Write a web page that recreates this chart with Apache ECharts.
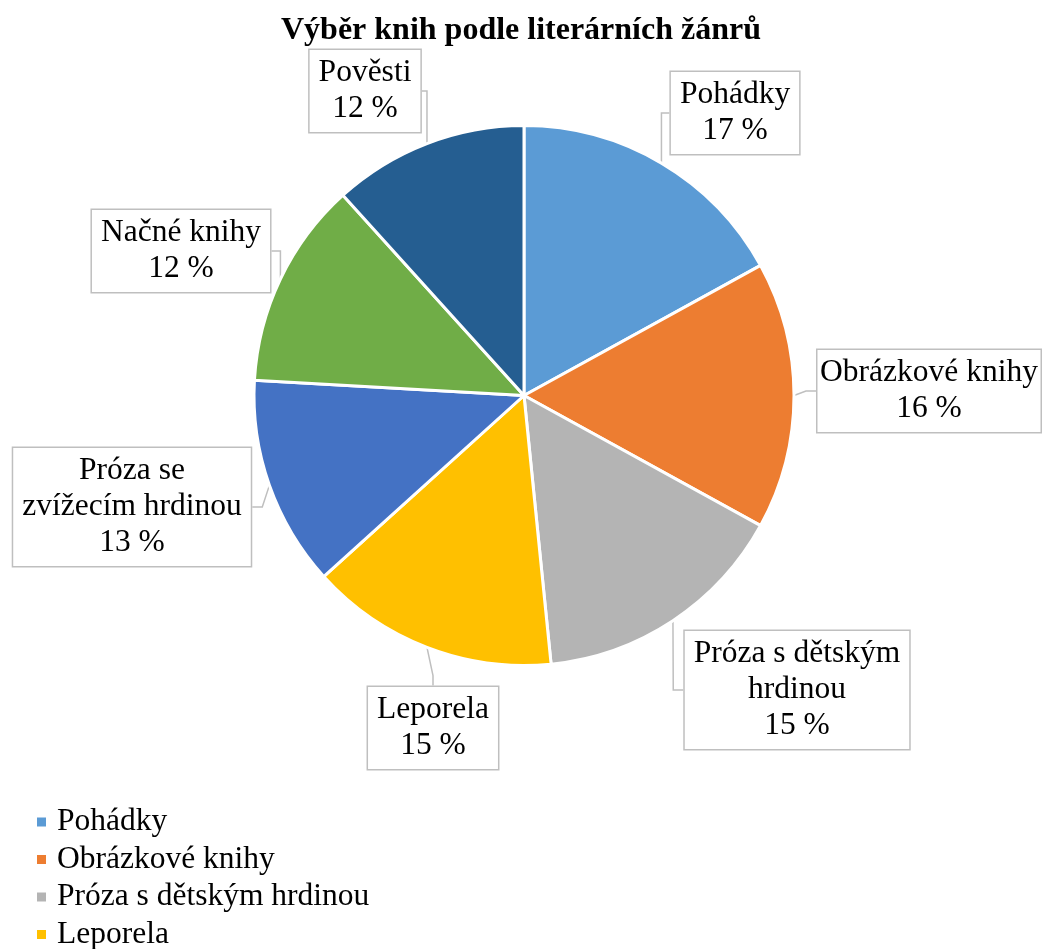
<!DOCTYPE html>
<html lang="cs">
<head>
<meta charset="UTF-8">
<title>Výběr knih podle literárních žánrů</title>
<script src="https://cdn.jsdelivr.net/npm/echarts@6/dist/echarts.min.js"></script>
<style>
  html, body { margin: 0; padding: 0; background: #fff; }
  #chart { width: 1042px; height: 949px; }
</style>
</head>
<body>
<div id="chart"></div>
<script>
// data
var genres = ['Pohádky', 'Obrázkové knihy', 'Próza s dětským hrdinou', 'Leporela',
    'Próza se zvířecím hrdinou', 'Načné knihy', 'Pověsti'];
var shares = [17.0, 16.0, 15.4, 14.9, 12.6, 12.4, 11.7];
// label texts as they are wrapped in the boxes
var labelNames = ['Pohádky', 'Obrázkové knihy', 'Próza s dětským\nhrdinou', 'Leporela',
    'Próza se\nzvížecím hrdinou', 'Načné knihy', 'Pověsti'];
var colors = ['#5B9BD5', '#ED7D31', '#B4B4B4', '#FFC000', '#4472C4', '#70AD47', '#255E91'];

// where the callout boxes sit (centre of box, px)
var labelPos = [[735, 113], [929, 391], [797, 690], [433, 728], [132, 507], [181, 251], [365, 91]];

var font = '"Liberation Serif", "Times New Roman", serif';

window.onload = function () {
    var myChart = echarts.init(document.getElementById('chart'));

    var seriesData = genres.map(function (g, i) {
        return { name: g, value: shares[i], itemStyle: { color: colors[i] } };
    });

    var option = {
        animation: false,
        title: {
            text: 'Výběr knih podle literárních žánrů',
            left: 'center',
            top: 10,
            textStyle: { fontFamily: font, fontSize: 32, fontWeight: 'bold', color: '#000' }
        },
        legend: {
            orient: 'vertical',
            left: 35,
            top: 806,
            height: 500,
            padding: 0,
            icon: 'rect',
            itemWidth: 11,
            itemHeight: 11,
            itemGap: 5.5,
            data: genres,
            textStyle: { fontFamily: font, fontSize: 31.5, color: '#000', lineHeight: 32, padding: [0, 0, 0, 5] }
        },
        series: [{
            type: 'pie',
            center: [524, 395.5],
            radius: 270,
            startAngle: 90,
            clockwise: true,
            percentPrecision: 0,
            itemStyle: { borderColor: '#fff', borderWidth: 3 },
            label: {
                show: true,
                position: 'outside',
                alignTo: 'none',
                overflow: 'none',
                bleedMargin: 0,
                fontFamily: font,
                fontSize: 31.5,
                lineHeight: 36,
                color: '#000',
                align: 'center',
                backgroundColor: '#fff',
                borderColor: '#BFBFBF',
                borderWidth: 1.5,
                padding: [5, 9, 5, 9],
                formatter: function (p) {
                    return labelNames[p.dataIndex] + '\n' + p.percent + ' %';
                }
            },
            labelLine: {
                show: true,
                length: 10,
                length2: 10,
                lineStyle: { color: '#BFBFBF', width: 1.5 }
            },
            labelLayout: function (p) {
                var pos = labelPos[p.dataIndex];
                return {
                    x: pos[0],
                    y: pos[1],
                    align: 'center',
                    verticalAlign: 'middle'
                };
            },
            data: seriesData
        }]
    };

    myChart.setOption(option);
};
</script>
</body>
</html>
